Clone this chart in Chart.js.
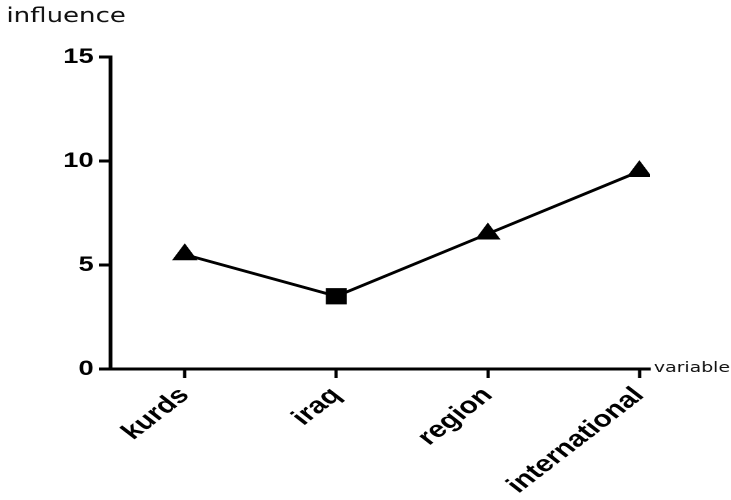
<!DOCTYPE html>
<html>
<head>
<meta charset="utf-8">
<script src="https://cdn.jsdelivr.net/npm/chart.js@4.4.0/dist/chart.umd.min.js"></script>
<style>
  html, body { margin: 0; padding: 0; background: #fff; overflow: hidden; }
  /* the original figure is stretched sideways, so draw narrow and widen it */
  #wrap { width: 562px; height: 500px; position: relative; transform: scaleX(1.3); transform-origin: 0 0; }
</style>
</head>
<body>
<div id="wrap"><canvas id="chart"></canvas></div>
<script>
// data
const categories = ["kurds", "iraq", "region", "international"];
const influence = [5.5, 3.5, 6.5, 9.5];
const markers = ["triangle", "rect", "triangle", "triangle"];
const markerSizes = [8.5, 9.5, 8.5, 8.5];
const yTicks = [0, 5, 10, 15];

// free text labels at the axis ends
const axisNames = {
  id: "axisNames",
  afterDraw(chart) {
    const ctx = chart.ctx;
    const area = chart.chartArea;
    ctx.save();
    ctx.fillStyle = "#111";
    ctx.textBaseline = "middle";
    ctx.textAlign = "left";
    ctx.font = "20px 'DejaVu Sans'";
    ctx.fillText("influence", 5, 17);
    ctx.font = "14.5px 'DejaVu Sans'";
    ctx.fillText("variable", area.right + 3, area.bottom - 1);
    ctx.restore();
  }
};

const ctx = document.getElementById("chart").getContext("2d");
new Chart(ctx, {
  type: "line",
  data: {
    datasets: [{
      data: influence.map((v, i) => ({ x: i, y: v })),
      borderColor: "#000",
      borderWidth: 2.8,
      backgroundColor: "#000",
      pointBackgroundColor: "#000",
      pointBorderColor: "#000",
      pointStyle: markers,
      pointRadius: markerSizes,
      pointHoverRadius: markerSizes,
      tension: 0,
      fill: false,
    }],
  },
  options: {
    responsive: true,
    maintainAspectRatio: false,
    animation: false,
    devicePixelRatio: 2,
    layout: { padding: { top: 57, right: 62, left: 0, bottom: 0 } },
    plugins: { legend: { display: false }, tooltip: { enabled: false } },
    scales: {
      x: {
        type: "linear",
        min: -0.49,
        max: 3.07,
        afterBuildTicks: (axis) => { axis.ticks = categories.map((_, i) => ({ value: i })) },
        afterFit: (axis) => { axis.height = 131 },
        border: { color: "#000", width: 3 },
        grid: { drawOnChartArea: false, drawTicks: true, tickLength: 9, tickWidth: 2.5, tickColor: "#000" },
        ticks: {
          callback: (v) => categories[v],
          minRotation: 45,
          maxRotation: 45,
          padding: 4,
          color: "#000",
          font: { family: "'Liberation Sans', Arial", size: 23, weight: "bold" },
        },
      },
      y: {
        min: 0,
        max: 15,
        afterBuildTicks: (axis) => { axis.ticks = yTicks.map(v => ({ value: v })) },
        afterFit: (axis) => { axis.width = 85 },
        border: { color: "#000", width: 3 },
        grid: { drawOnChartArea: false, drawTicks: true, tickLength: 9, tickWidth: 3, tickColor: "#000" },
        ticks: {
          padding: 4,
          color: "#000",
          font: { family: "'Liberation Sans', Arial", size: 21, weight: "bold" },
        },
      },
    },
  },
  plugins: [axisNames],
});
</script>
</body>
</html>
